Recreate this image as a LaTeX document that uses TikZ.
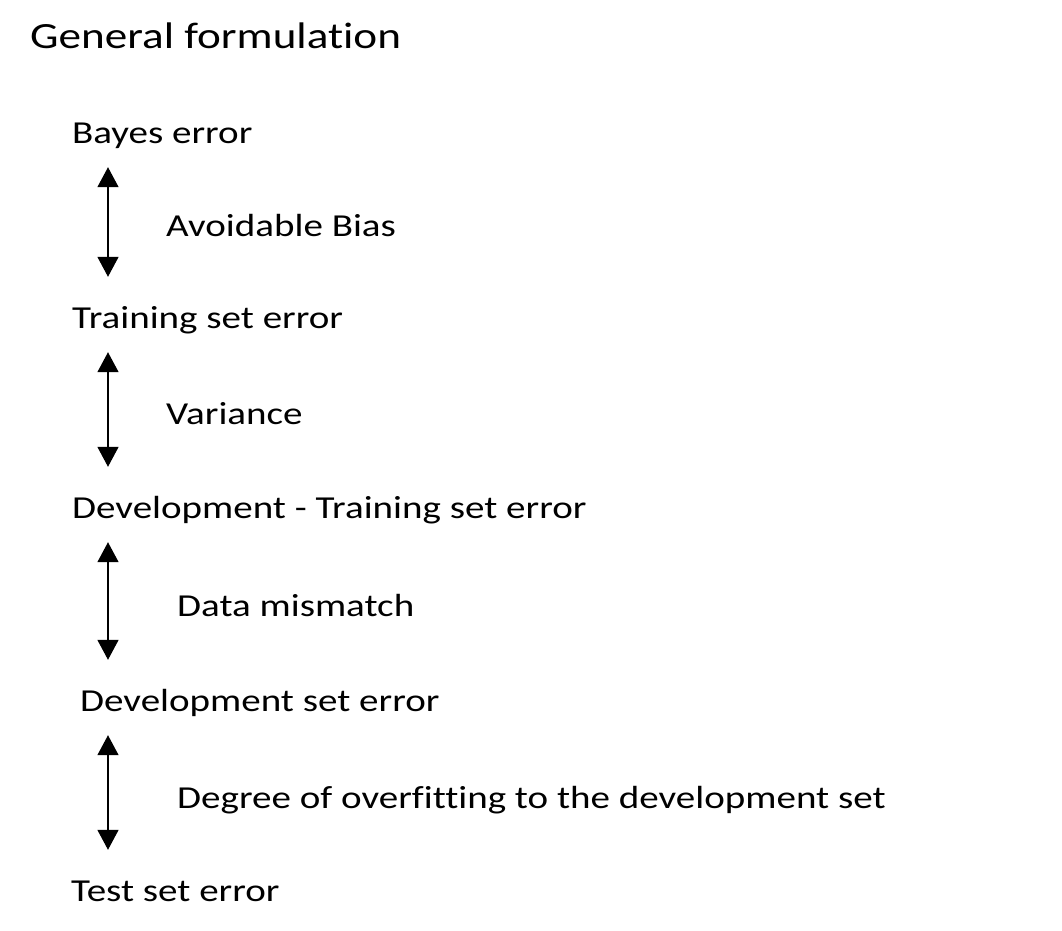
\documentclass[tikz,border=0pt]{standalone}
\usepackage{fontspec}
\setmainfont{Carlito}[FakeStretch=1.22, Ligatures=NoCommon]
\usetikzlibrary{arrows.meta}
\begin{document}
\begin{tikzpicture}[x=1pt,y=1pt,
	stage/.style={anchor=base west, inner sep=0pt, text height=22pt, text depth=7pt, font=\fontsize{32}{38}\selectfont},
	gaplabel/.style={anchor=base west, inner sep=0pt, font=\fontsize{32}{38}\selectfont},
	gaparrow/.style={line width=1.5pt, {Triangle[width=21pt,length=20pt]}-{Triangle[width=21pt,length=20pt]}, shorten <=17pt, shorten >=29pt}]
	\useasboundingbox (0,0) rectangle (1062,-930);
	\node[anchor=base west, inner sep=0pt, font=\fontsize{37}{44}\selectfont] (title) at (30,-48) {General formulation};%Ueberschrift

	\node[stage] (bayes) at (72,-143) {Bayes error};
	\node[stage] (train) at (72,-328) {Training set error};
	\node[stage] (devtrain) at (72,-518) {Development - Training set error};
	\node[stage] (devset) at (80,-711) {Development set error};
	\node[stage] (test) at (71,-901) {Test set error};

	\draw[gaparrow] ([xshift=36pt]bayes.south west) -- ([xshift=36pt]train.north west);%bias
	\draw[gaparrow] ([xshift=36pt]train.south west) -- ([xshift=36pt]devtrain.north west);%variance
	\draw[gaparrow] ([xshift=36pt]devtrain.south west) -- ([xshift=28pt]devset.north west);%mismatch
	\draw[gaparrow] ([xshift=28pt]devset.south west) -- ([xshift=37pt]test.north west);%overfitting

	\node[gaplabel] (bias) at (166,-236) {Avoidable Bias};
	\node[gaplabel] (variance) at (166,-424) {Variance};
	\node[gaplabel] (mismatch) at (177,-616) {Data mismatch};
	\node[gaplabel] (overfit) at (177,-808) {Degree of overfitting to the development set};
\end{tikzpicture}
\end{document}
